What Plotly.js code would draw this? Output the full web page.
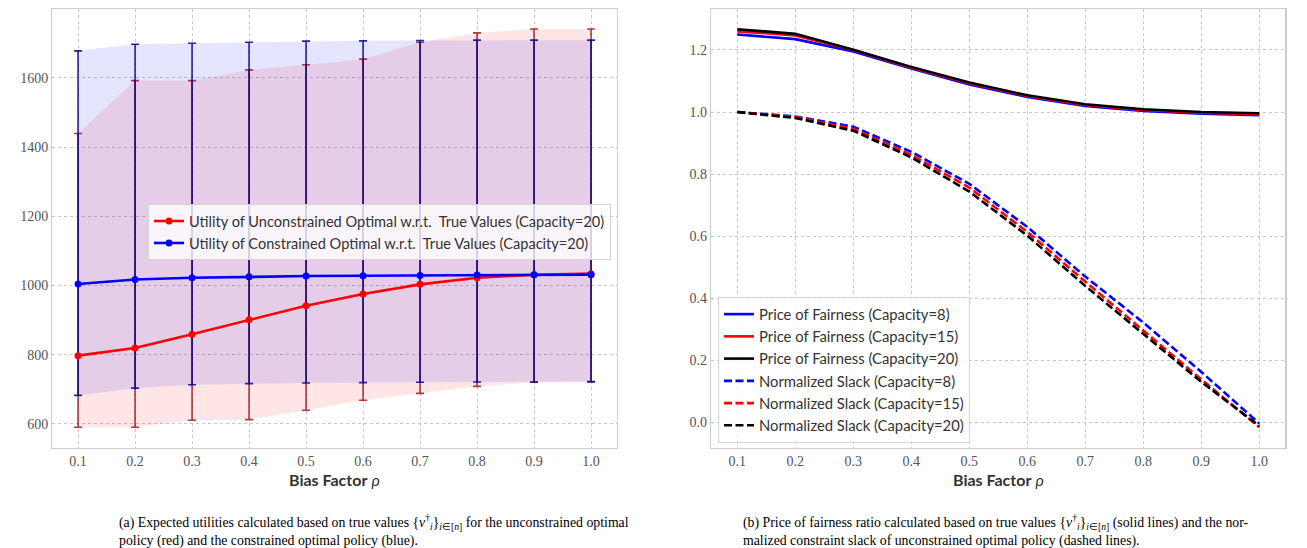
<!DOCTYPE html>
<html>
<head>
<meta charset="utf-8">
<script src="https://cdn.plot.ly/plotly-3.0.1.min.js"></script>
<style>html,body{margin:0;padding:0;background:#fff;}#chart{width:1307px;height:548px;}</style>
</head>
<body>
<div id="chart"></div>
<script>
// ---- data (left panel) ----
var rho = [0.1, 0.2, 0.3, 0.4, 0.5, 0.6, 0.7, 0.8, 0.9, 1.0];
var uncMean  = [797, 819, 859, 901, 941, 975, 1003, 1022, 1031, 1034];
var uncUpper = [1439, 1592, 1592, 1623, 1638, 1654, 1703, 1730, 1741, 1741];
var uncLower = [590, 590, 610, 612, 639, 668, 688, 708, 720, 721];
var conMean  = [1004, 1017, 1022, 1025, 1027, 1028, 1029, 1030, 1031, 1031];
var conUpper = [1678, 1697, 1700, 1703, 1706, 1707, 1708, 1709, 1709, 1709];
var conLower = [682, 703, 713, 716, 718, 719, 720, 721, 721, 722];

// ---- data (right panel) ----
var pof8    = [1.250, 1.235, 1.195, 1.140, 1.089, 1.049, 1.020, 1.004, 0.995, 0.990];
var pof15   = [1.260, 1.247, 1.200, 1.143, 1.093, 1.052, 1.023, 1.007, 0.998, 0.993];
var pof20   = [1.267, 1.252, 1.201, 1.145, 1.095, 1.054, 1.025, 1.009, 1.000, 0.996];
var slack8  = [1.000, 0.986, 0.953, 0.872, 0.769, 0.630, 0.470, 0.322, 0.163, -0.003];
var slack15 = [1.000, 0.984, 0.946, 0.862, 0.757, 0.614, 0.454, 0.295, 0.139, -0.015];
var slack20 = [1.000, 0.981, 0.940, 0.854, 0.744, 0.602, 0.440, 0.287, 0.131, -0.011];

var leftYTicks = [600, 800, 1000, 1200, 1400, 1600];
var rightYTicks = [0.0, 0.2, 0.4, 0.6, 0.8, 1.0, 1.2];

var labelUnc = "Utility of Unconstrained Optimal w.r.t.  True Values (Capacity=20)";
var labelCon = "Utility of Constrained Optimal w.r.t.  True Values (Capacity=20)";

function diff(a, b) { return a.map(function (v, i) { return v - b[i]; }); }

var traces = [];
// fills
function band(lower, upper, color) {
  traces.push({x: rho, y: lower, mode: 'lines', line: {width: 0}, showlegend: false, hoverinfo: 'skip', xaxis: 'x', yaxis: 'y'});
  traces.push({x: rho, y: upper, mode: 'lines', line: {width: 0}, fill: 'tonexty', fillcolor: color, showlegend: false, hoverinfo: 'skip', xaxis: 'x', yaxis: 'y'});
}
band(uncLower, uncUpper, 'rgba(255,0,0,0.1)');
band(conLower, conUpper, 'rgba(0,0,255,0.1)');

// error bars
function errs(mean, upper, lower, color) {
  traces.push({x: rho, y: mean, mode: 'markers', marker: {size: 1, color: 'rgba(0,0,0,0)'},
    error_y: {type: 'data', symmetric: false, array: diff(upper, mean), arrayminus: diff(mean, lower),
      color: color, thickness: 1.6, width: 4},
    showlegend: false, hoverinfo: 'skip', xaxis: 'x', yaxis: 'y'});
}
errs(uncMean, uncUpper, uncLower, 'rgba(139,0,0,0.75)');
errs(conMean, conUpper, conLower, 'rgba(0,0,139,0.85)');

// mean lines
traces.push({x: rho, y: uncMean, mode: 'lines+markers', name: labelUnc, line: {color: '#ff0000', width: 2.6}, marker: {color: '#ff0000', size: 7}, xaxis: 'x', yaxis: 'y', legend: 'legend'});
traces.push({x: rho, y: conMean, mode: 'lines+markers', name: labelCon, line: {color: '#0000ff', width: 2.6}, marker: {color: '#0000ff', size: 7}, xaxis: 'x', yaxis: 'y', legend: 'legend'});

// right panel
var dashPat = '8px,3.5px';
function rline(y, name, color, dash) {
  traces.push({x: rho, y: y, mode: 'lines', name: name, line: {color: color, width: 2.6, dash: dash}, xaxis: 'x2', yaxis: 'y2', legend: 'legend2'});
}
rline(pof8, 'Price of Fairness (Capacity=8)', '#0000ff', 'solid');
rline(pof15, 'Price of Fairness (Capacity=15)', '#ff0000', 'solid');
rline(pof20, 'Price of Fairness (Capacity=20)', '#000000', 'solid');
rline(slack8, 'Normalized Slack (Capacity=8)', '#0000ff', dashPat);
rline(slack15, 'Normalized Slack (Capacity=15)', '#ff0000', dashPat);
rline(slack20, 'Normalized Slack (Capacity=20)', '#000000', dashPat);

var tickFont = {family: 'Liberation Serif, serif', size: 14, color: '#555555'};
function xax(domain, anchor) {
  return {domain: domain, anchor: anchor, range: [0.055, 1.045], tickvals: rho, ticktext: rho.map(function (v) { return v.toFixed(1); }),
    showline: true, mirror: true, linecolor: '#cccccc', linewidth: 1.3, showgrid: true, gridcolor: '#b8b8b8', griddash: 'dot', gridwidth: 0.8,
    zeroline: false, ticks: '', tickfont: tickFont, fixedrange: true};
}
function yax(range, ticks, fmt, anchor) {
  return {domain: [0, 1], anchor: anchor, range: range, tickvals: ticks, ticktext: ticks.map(function (v) { return fmt(v); }),
    showline: true, mirror: true, linecolor: '#cccccc', linewidth: 1.3, showgrid: true, gridcolor: '#b8b8b8', griddash: 'dot', gridwidth: 0.8,
    zeroline: false, ticks: '', tickfont: tickFont, fixedrange: true};
}

var H = 439, B = 448;
function py(pix) { return (B - pix) / H; }
function px(pix) { return pix / 1307; }

var capFont = {family: 'Liberation Serif, serif', size: 13.8, color: '#000000'};
var titleFont = {family: 'Lato, sans-serif', size: 16, color: '#333333'};

var layout = {
  width: 1307, height: 548,
  margin: {l: 0, r: 0, t: 9, b: 100},
  paper_bgcolor: '#ffffff', plot_bgcolor: '#ffffff',
  xaxis: xax([px(52.4), px(616.7)], 'y'),
  yaxis: yax([530, 1799], leftYTicks, function (v) { return String(v); }, 'x'),
  xaxis2: xax([px(711.2), px(1285.4)], 'y2'),
  yaxis2: yax([-0.082, 1.332], rightYTicks, function (v) { return v.toFixed(1); }, 'x2'),
  legend: {x: px(148), y: py(204), xanchor: 'left', yanchor: 'top', traceorder: 'normal', bgcolor: 'rgba(255,255,255,0.8)', bordercolor: '#d4d4d4', borderwidth: 1,
    font: {family: 'Lato, sans-serif', size: 14.6, color: '#333333'}},
  legend2: {x: px(718), y: py(297), xanchor: 'left', yanchor: 'top', traceorder: 'normal', bgcolor: 'rgba(255,255,255,0.8)', bordercolor: '#d4d4d4', borderwidth: 1,
    font: {family: 'Lato, sans-serif', size: 14.8, color: '#333333'}},
  annotations: [
    {xref: 'paper', yref: 'paper', x: px(334.5), y: py(479), xanchor: 'center', yanchor: 'middle', showarrow: false, text: '<b>Bias Factor</b> <i>ρ</i>', font: titleFont},
    {xref: 'paper', yref: 'paper', x: px(998.3), y: py(479), xanchor: 'center', yanchor: 'middle', showarrow: false, text: '<b>Bias Factor</b> <i>ρ</i>', font: titleFont},
    {xref: 'paper', yref: 'paper', x: px(117), y: py(522), xanchor: 'left', yanchor: 'middle', showarrow: false, font: capFont,
      text: '(a) Expected utilities calculated based on true values {<i>v</i><sup>†</sup><sub><i>i</i></sub>}<sub><i>i</i>∈[<i>n</i>]</sub> for the unconstrained optimal'},
    {xref: 'paper', yref: 'paper', x: px(117), y: py(541), xanchor: 'left', yanchor: 'middle', showarrow: false, font: capFont,
      text: 'policy (red) and the constrained optimal policy (blue).'},
    {xref: 'paper', yref: 'paper', x: px(741), y: py(522), xanchor: 'left', yanchor: 'middle', showarrow: false, font: capFont,
      text: '(b) Price of fairness ratio calculated based on true values {<i>v</i><sup>†</sup><sub><i>i</i></sub>}<sub><i>i</i>∈[<i>n</i>]</sub> (solid lines) and the nor-'},
    {xref: 'paper', yref: 'paper', x: px(741), y: py(541), xanchor: 'left', yanchor: 'middle', showarrow: false, font: capFont,
      text: 'malized constraint slack of unconstrained optimal policy (dashed lines).'}
  ],
  showlegend: true
};

Plotly.newPlot('chart', traces, layout, {displayModeBar: false, staticPlot: true});
</script>
</body>
</html>
